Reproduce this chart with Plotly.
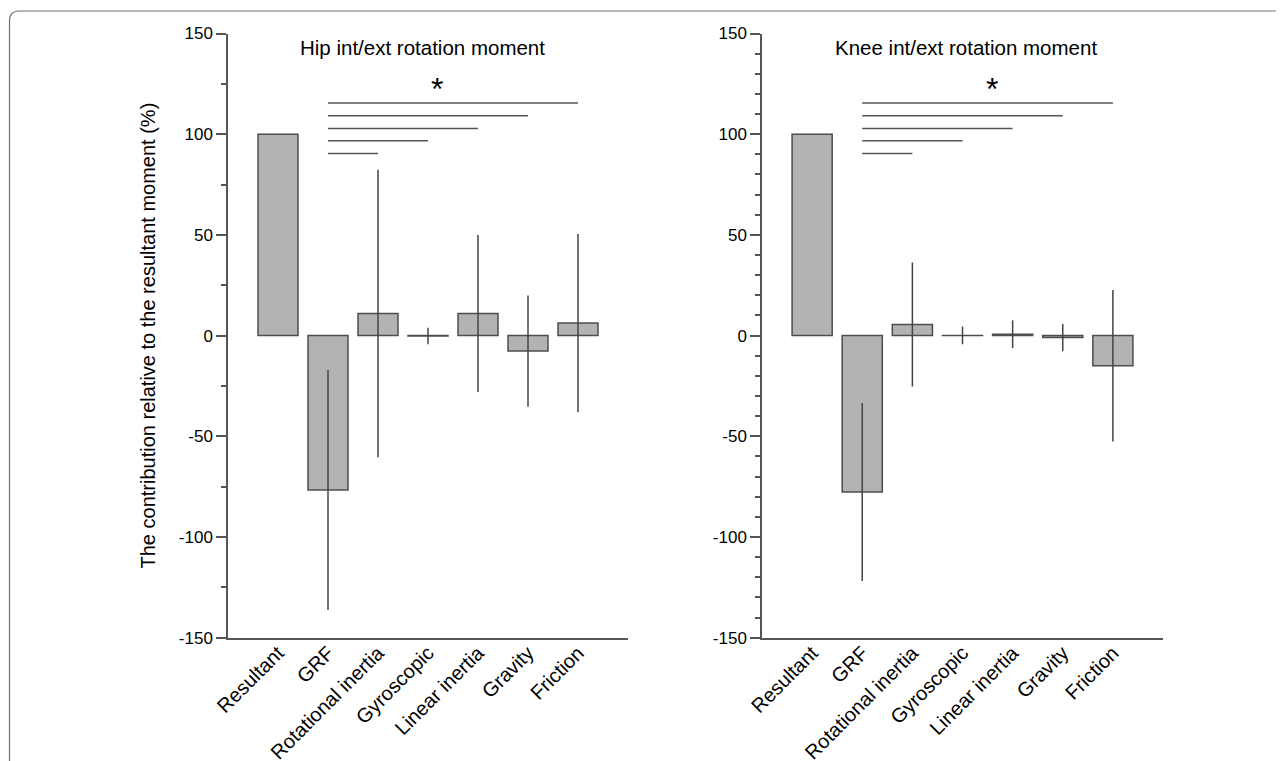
import plotly.graph_objects as go

W, H = 1284, 761
OFF = 8  # page body margin of the browser

categories = ["Resultant", "GRF", "Rotational inertia", "Gyroscopic",
              "Linear inertia", "Gravity", "Friction"]

hip_mean = [100.0, -76.7, 11.0, -0.2, 11.0, -7.7, 6.2]
hip_sd = [0.0, 59.6, 71.4, 4.1, 39.0, 27.6, 44.3]

knee_mean = [100.0, -77.7, 5.5, 0.1, 0.7, -1.0, -15.0]
knee_sd = [0.0, 44.2, 30.8, 4.4, 6.9, 6.8, 37.6]

panel_titles = ["Hip int/ext rotation moment", "Knee int/ext rotation moment"]
y_title = "The contribution relative to the resultant moment (%)"

# significance brackets: from GRF to each of these categories, at these heights
sig_from = "GRF"
sig_to = ["Rotational inertia", "Gyroscopic", "Linear inertia", "Gravity", "Friction"]
sig_levels = [90.4, 96.7, 102.8, 109.1, 115.5]
star_pos = [(3.17, 122.5), (3.58, 122.5)]

y_major = [-150, -100, -50, 0, 50, 100, 150]
minor_step = [25, 10]

FONT = "Liberation Sans, Arial, sans-serif"
AXC = "#555555"
BAR_FILL = "#b3b3b3"
BAR_LINE = "#4d4d4d"


def px(v):
    return (v - OFF) / W


def py(v):
    return 1 - (v - OFF) / H


x_domains = [[px(228), px(628)], [px(762), px(1163)]]
y_domain = [py(637.7), py(33.5)]

fig = go.Figure()

for i, (means, sds) in enumerate([(hip_mean, hip_sd), (knee_mean, knee_sd)]):
    xa = "x" if i == 0 else "x2"
    ya = "y" if i == 0 else "y2"
    fig.add_trace(go.Bar(
        x=categories, y=means, width=0.8,
        xaxis=xa, yaxis=ya,
        marker=dict(color=BAR_FILL, line=dict(color=BAR_LINE, width=1.5)),
        error_y=dict(type="data", array=sds, visible=True, thickness=1.5,
                     width=0, color="#444444"),
        showlegend=False, hoverinfo="x+y",
    ))

layout_axes = {}
for i in range(2):
    sfx = "" if i == 0 else "2"
    layout_axes["xaxis" + sfx] = dict(
        domain=x_domains[i], anchor="y" + sfx, type="category",
        range=[-1, 7], showline=True, linecolor=AXC, linewidth=1.5,
        ticks="", tickangle=-45, showgrid=False, zeroline=False,
        automargin=False, ticklabelstandoff=-6,
        tickfont=dict(family=FONT, size=20, color="black"),
    )
    layout_axes["yaxis" + sfx] = dict(
        domain=y_domain, anchor="x" + sfx, range=[-150, 150],
        showline=True, linecolor=AXC, linewidth=1.5,
        tickmode="array", tickvals=y_major, ticktext=[str(v) for v in y_major],
        ticks="outside", ticklen=10, tickwidth=1.5, tickcolor=AXC,
        minor=dict(dtick=minor_step[i], tick0=0, ticks="outside", ticklen=5,
                   tickwidth=1.5, tickcolor=AXC, showgrid=False),
        showgrid=False, zeroline=False, automargin=False,
        tickfont=dict(family=FONT, size=17, color="black"),
        title=dict(text=y_title if i == 0 else "", standoff=18,
                   font=dict(family=FONT, size=20, color="black")),
    )

shapes = []
for i in range(2):
    xa = "x" if i == 0 else "x2"
    ya = "y" if i == 0 else "y2"
    x0 = categories.index(sig_from)
    for tgt, lvl in zip(sig_to, sig_levels):
        shapes.append(dict(type="line", xref=xa, yref=ya,
                           x0=x0, x1=categories.index(tgt), y0=lvl, y1=lvl,
                           line=dict(color=AXC, width=1.5)))

# outer frame (rounded top-left corner)
fx, fy = px(9.5), py(11)
rx, ry = 10 / W, 10 / H
shapes.append(dict(type="path", xref="paper", yref="paper",
                   path=f"M {fx},-0.05 L {fx},{fy - ry} Q {fx},{fy} {fx + rx},{fy} L 1.05,{fy}",
                   line=dict(color="#707070", width=1.2)))

annotations = []
title_centers = [px(422), px(966)]
for i in range(2):
    annotations.append(dict(text=panel_titles[i], xref="paper", yref="paper",
                            x=title_centers[i], y=py(47), xanchor="center",
                            yanchor="middle", showarrow=False,
                            font=dict(family=FONT, size=20.5, color="black")))
    annotations.append(dict(text="*", xref="x" if i == 0 else "x2",
                            yref="y" if i == 0 else "y2",
                            x=star_pos[i][0], y=star_pos[i][1], xanchor="center",
                            yanchor="middle", showarrow=False,
                            font=dict(family=FONT, size=32, color="black")))

fig.update_layout(
    width=W, height=H,
    margin=dict(l=0, r=0, t=0, b=0, autoexpand=False),
    paper_bgcolor="white", plot_bgcolor="white",
    shapes=shapes, annotations=annotations,
    bargap=0.2,
    **layout_axes,
)

fig.write_html("out.html")
